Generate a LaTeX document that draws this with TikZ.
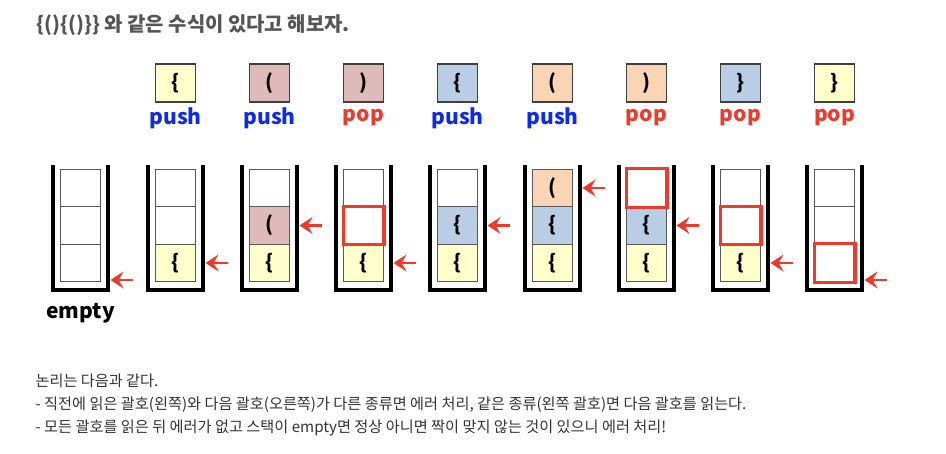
\documentclass[tikz,border=0pt]{standalone}
\usepackage{fontspec}
\setmainfont{Noto Sans CJK KR}
\usetikzlibrary{arrows.meta}
\definecolor{cyel}{HTML}{FFFFCC}
\definecolor{cpink}{HTML}{DFBABA}
\definecolor{cblue}{HTML}{B9CDE5}
\definecolor{cpeach}{HTML}{F9D5B6}
\definecolor{cred}{HTML}{EE3A2C}
\definecolor{cpush}{HTML}{0F2AF0}
\definecolor{ctext}{HTML}{555555}
\tikzset{
	cell/.style = {draw = black!65, line width = 0.8pt, minimum width = 40pt, minimum height = 37.5pt, inner sep = 0pt, font = \bfseries\fontsize{20}{20}\selectfont},
	no/.style = {node contents = {}},
	ye/.style = {fill = cyel, node contents = {\{}},
	pk/.style = {fill = cpink, node contents = {(}},
	bl/.style = {fill = cblue, node contents = {\{}},
	pc/.style = {fill = cpeach, node contents = {(}},
	opbox/.style = {draw = black!75, line width = 1.1pt, minimum width = 40pt, minimum height = 38pt, inner sep = 0pt, font = \bfseries\fontsize{20}{20}\selectfont},
	push lbl/.style = {text = cpush, font = \bfseries\fontsize{21}{21}\selectfont},
	pop lbl/.style = {text = cred, font = \bfseries\fontsize{21}{21}\selectfont},
	wall/.style = {line width = 3.5pt},
	ptr/.style = {cred, line width = 2.8pt, -{Stealth[length = 13pt, width = 17pt, inset = 5pt]}},
	note/.style = {anchor = west, text = black!80, font = \fontsize{15.2}{18}\selectfont}
}
\begin{document}
\begin{tikzpicture} [x = 1pt, y = -1pt]
	\useasboundingbox (0,0) rectangle (946,454);
	\node [anchor = west, text = ctext, font = \bfseries\fontsize{19.9}{20}\selectfont] (title) at (33,25) {\{()\{()\}\} 와 같은 수식이 있다고 해보자.};
	% operations
	\foreach \i/\x/\f/\t/\w in {2/175.5/cyel/\{/push, 3/269.5/cpink/(/push, 4/363.5/cpink/)/pop, 5/457.5/cblue/\{/push, 6/552.5/cpeach/(/push, 7/646.5/cpeach/)/pop, 8/740.5/cblue/\}/pop, 9/834.5/cyel/\}/pop} {
		\node [opbox, fill = \f] (op\i) at (\x,83) {\t};
		\node [\w\space lbl] (lb\i) at (\x,118) {\w};
	}
	% stacks
	\foreach \i/\x/\a/\b/\c/\ay in {1/80.5/no/no/no/280, 2/175.5/ye/no/no/263, 3/269.5/ye/pk/no/225.5, 4/363.5/ye/no/no/263, 5/457.5/ye/bl/no/225.5, 6/552.5/ye/bl/pc/188, 7/646.5/ye/bl/no/225.5, 8/740.5/ye/no/no/263, 9/834.5/no/no/no/280} {
		\draw [wall] (\x-27.5,165) -- (\x-27.5,290) -- (\x+27.5,290) -- (\x+27.5,165);
		\node (s\i-1) at (\x,263) [cell, \a];
		\node (s\i-2) at (\x,225.5) [cell, \b];
		\node (s\i-3) at (\x,188) [cell, \c];
		\coordinate (tip\i) at (\x+30,\ay);
		\coordinate (tail\i) at (\x+52,\ay);
		\draw [ptr] (tail\i) -- (tip\i);
	}
	\foreach \s in {4-2, 7-3, 8-2, 9-1}
		\draw [cred, line width = 3.2pt] (s\s.south west) rectangle (s\s.north east);
	\node [font = \bfseries\fontsize{21}{21}\selectfont] (empty) at (80.5,313) {empty};
	% logic
	\node [note] (n1) at (32,381) {논리는 다음과 같다.};
	\node [note] (n2) at (32,405) {- 직전에 읽은 괄호(왼쪽)와 다음 괄호(오른쪽)가 다른 종류면 에러 처리, 같은 종류(왼쪽 괄호)면 다음 괄호를 읽는다.};
	\node [note] (n3) at (32,428) {- 모든 괄호를 읽은 뒤 에러가 없고 스택이 empty면 정상 아니면 짝이 맞지 않는 것이 있으니 에러 처리!};
\end{tikzpicture}
\end{document}
